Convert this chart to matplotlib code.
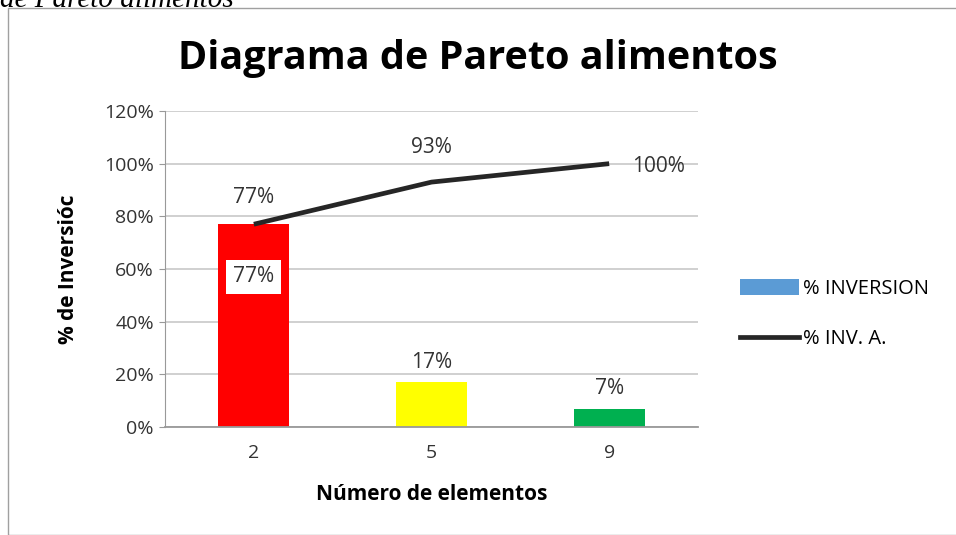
import matplotlib
matplotlib.use("Agg")
import matplotlib.pyplot as plt
from matplotlib.patches import Rectangle
from matplotlib.lines import Line2D
from matplotlib.patches import Patch

categories = ["2", "5", "9"]
pct_inversion = [77, 17, 7]
pct_acumulado = [77, 93, 100]
bar_colors = ["#ff0000", "#ffff00", "#00b050"]
yticks = [0, 20, 40, 60, 80, 100, 120]

plt.rcParams["font.family"] = ["Open Sans", "DejaVu Sans"]

fig = plt.figure(figsize=(9.56, 5.35), dpi=100)
fig.patches.append(Rectangle((8 / 956, 0), 1, 1 - 8 / 535, transform=fig.transFigure,
                             fill=False, edgecolor="#a0a0a0", linewidth=1))
# caption of the document, cut by the top edge as in the source
fig.text(0.0, 1.0, "de Pareto alimentos", family="Liberation Serif", style="italic",
         fontsize=21, va="center", ha="left")

ax = fig.add_axes([165 / 956, 1 - 427 / 535, (698 - 165) / 956, (427 - 111) / 535])
x = list(range(len(categories)))
ax.bar(x, pct_inversion, width=0.4, color=bar_colors, zorder=2)
ax.plot(x, pct_acumulado, color="#262626", linewidth=3.4, zorder=3,
        solid_capstyle="butt")

ax.set_xlim(-0.5, len(categories) - 0.5)
ax.set_ylim(0, 120)
ax.set_yticks(yticks)
ax.set_yticklabels([f"{v}%" for v in yticks], fontsize=14, color="#333333")
ax.set_xticks(x)
ax.set_xticklabels(categories, fontsize=14, color="#333333")
ax.tick_params(axis="x", length=0, pad=12)
ax.tick_params(axis="y", length=4, color="#999999", pad=4)
ax.grid(axis="y", color="#c8c8c8", linewidth=1.2, zorder=0)
for s in ["top", "right"]:
    ax.spines[s].set_visible(False)
ax.spines["left"].set_color("#999999")
ax.spines["bottom"].set_color("#999999")
ax.spines["bottom"].set_linewidth(1.3)

lbl = dict(ha="center", va="center", fontsize=15, color="#333333")
# bar labels
ax.text(x[0], pct_inversion[0] - 20, f"{pct_inversion[0]}%", zorder=4,
        bbox=dict(facecolor="white", edgecolor="none", pad=5), **lbl)
for i in x[1:]:
    ax.text(i, pct_inversion[i] + 7.5, f"{pct_inversion[i]}%", **lbl)

# cumulative labels
ax.text(x[0], pct_acumulado[0] + 10, f"{pct_acumulado[0]}%", **lbl)
ax.text(x[1], pct_acumulado[1] + 13, f"{pct_acumulado[1]}%", **lbl)
ax.text(x[2] + 0.13, pct_acumulado[2] - 1, f"{pct_acumulado[2]}%",
        ha="left", va="center", fontsize=15, color="#333333")

ax.set_xlabel("Número de elementos", fontsize=15, fontweight="bold", labelpad=16)
ax.set_ylabel("% de Inversióc", fontsize=15, fontweight="bold", labelpad=18)

fig.text(478 / 956, 1 - 58 / 535, "Diagrama de Pareto alimentos", ha="center", va="center",
         fontsize=28.5, fontweight="bold")

handles = [Patch(facecolor="#5b9bd5", label="% INVERSION"),
           Line2D([0], [0], color="#262626", linewidth=3.4, label="% INV. A.")]
fig.legend(handles=handles, loc="center left", bbox_to_anchor=(722 / 956, 1 - 314 / 535),
           frameon=False, fontsize=14.5, handlelength=2.9, handleheight=0.8,
           labelspacing=1.5, handletextpad=0.2)

fig.savefig("out.png", dpi=100)
